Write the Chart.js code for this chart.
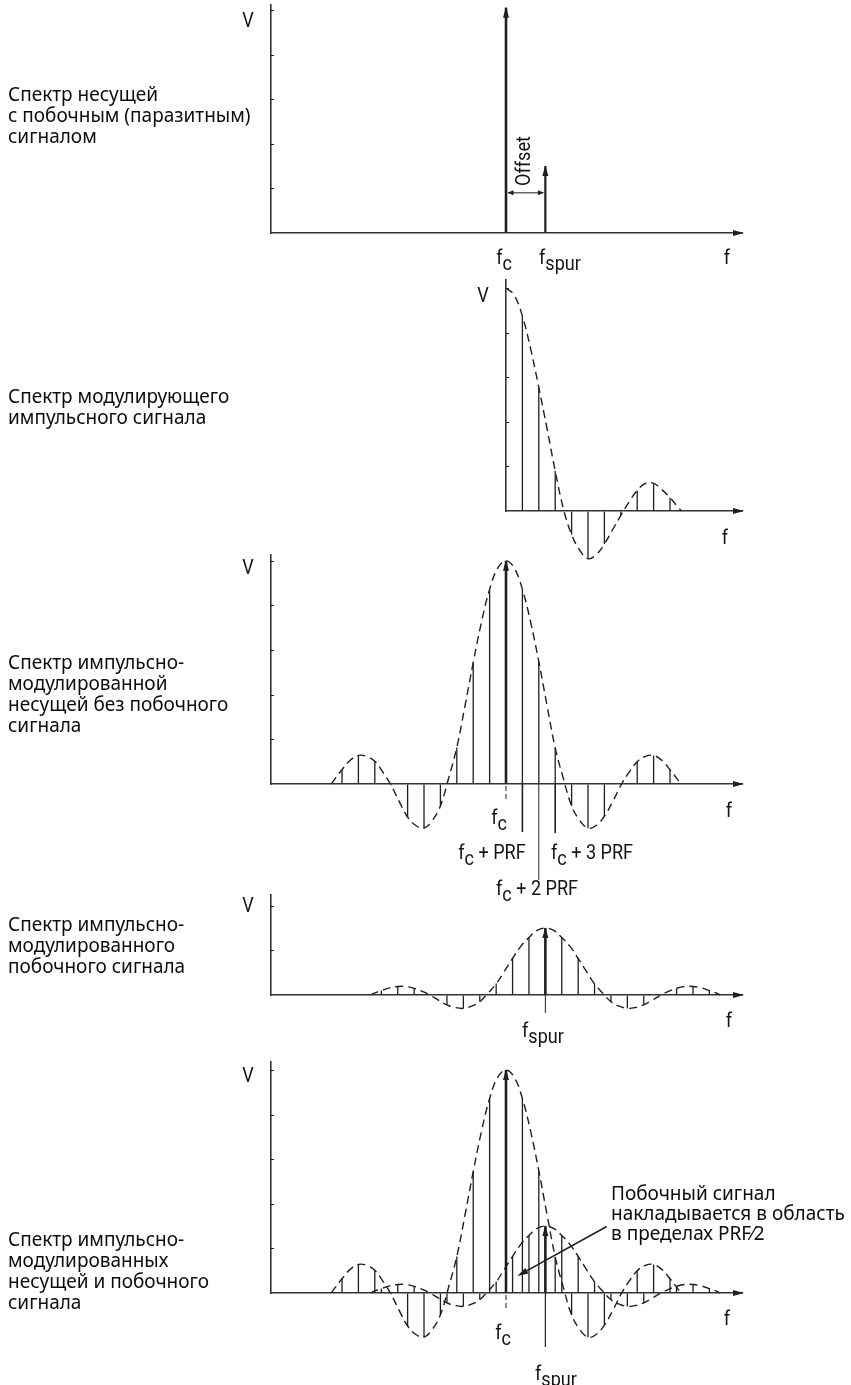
<!DOCTYPE html>
<html><head><meta charset="utf-8">
<script src="https://cdn.jsdelivr.net/npm/chart.js@4.4.1/dist/chart.umd.min.js"></script>
<style>
html,body{margin:0;padding:0;background:#fff;}
#wrap{position:relative;width:851px;height:1385px;overflow:hidden;background:#fff;}
canvas{position:absolute;left:0;}
.lbl{position:absolute;left:8px;font-family:"Noto Sans","Open Sans",sans-serif;font-size:19px;line-height:21px;color:#0d0d0d;white-space:nowrap;}
.note{position:absolute;left:611px;top:1183px;font-family:"Noto Sans","Open Sans",sans-serif;font-size:19px;line-height:20px;color:#0d0d0d;white-space:nowrap;}
.ax{position:absolute;font-family:"Roboto","Liberation Sans",sans-serif;font-size:21px;line-height:1;color:#141414;white-space:nowrap;transform:translate(-50%,-50%) scaleX(0.86);}
.ax sub{font-size:1em;vertical-align:-0.3em;line-height:0;}
.rot{transform:translate(-50%,-50%) rotate(-90deg) scaleX(0.86);}
</style></head>
<body><div id="wrap">
<canvas id="c1" width="851" height="250" style="top:0px"></canvas>
<canvas id="c2" width="851" height="300" style="top:270px"></canvas>
<canvas id="c3" width="851" height="360" style="top:545px"></canvas>
<canvas id="c4" width="851" height="140" style="top:885px"></canvas>
<canvas id="c5" width="851" height="310" style="top:1050px"></canvas>

<div class="lbl" style="top:84px">Спектр несущей<br>с побочным (паразитным)<br>сигналом</div>
<div class="lbl" style="top:386px">Спектр модулирующего<br>импульсного сигнала</div>
<div class="lbl" style="top:652px">Спектр импульсно-<br>модулированной<br>несущей без побочного<br>сигнала</div>
<div class="lbl" style="top:914px">Спектр импульсно-<br>модулированного<br>побочного сигнала</div>
<div class="lbl" style="top:1229px">Спектр импульсно-<br>модулированных<br>несущей и побочного<br>сигнала</div>
<div class="note">Побочный сигнал<br>накладывается в область<br>в пределах PRF⁄2</div>

<div class="ax" style="left:248px;top:20px">V</div>
<div class="ax" style="left:504px;top:257px">f<sub>c</sub></div>
<div class="ax" style="left:560px;top:257px">f<sub>spur</sub></div>
<div class="ax" style="left:727px;top:257px">f</div>
<div class="ax rot" style="left:523px;top:161px">Offset</div>

<div class="ax" style="left:483px;top:295px">V</div>
<div class="ax" style="left:725px;top:537px">f</div>

<div class="ax" style="left:248px;top:567px">V</div>
<div class="ax" style="left:729px;top:810px">f</div>
<div class="ax" style="left:499px;top:817px">f<sub>c</sub></div>
<div class="ax" style="left:492px;top:852px">f<sub>c</sub> + PRF</div>
<div class="ax" style="left:592px;top:852px">f<sub>c</sub> + 3 PRF</div>
<div class="ax" style="left:537px;top:888px">f<sub>c</sub> + 2 PRF</div>

<div class="ax" style="left:248px;top:905px">V</div>
<div class="ax" style="left:543px;top:1030px">f<sub>spur</sub></div>
<div class="ax" style="left:729px;top:1020px">f</div>

<div class="ax" style="left:248px;top:1075px">V</div>
<div class="ax" style="left:503px;top:1332px">f<sub>c</sub></div>
<div class="ax" style="left:556px;top:1373px">f<sub>spur</sub></div>
<div class="ax" style="left:727px;top:1318px">f</div>
</div>
<script>
// ---------------- DATA ----------------
// x: frequency in PRF units relative to f_c ; y: amplitude in axis-tick units
const fSpur = 2.4;                 // spur offset from carrier
const lineFreqs = [0, 2.4];        // panel 1: carrier & spur lines
const lineAmps  = [5.05, 1.5];

// panel 2: modulating pulse spectrum (one-sided)
const modK    = [0,0.5,1,1.5,2,2.5,3,3.5,4,4.5,5,5.5,6,6.5,7,7.5,8,8.5,9,9.5,10,10.5,10.7];
const modEnv  = [5.0,4.84,4.37,3.64,2.77,1.85,0.90,0.05,-0.53,-0.88,-1.07,-0.98,-0.74,-0.42,-0.10,0.20,0.46,0.62,0.62,0.48,0.30,0.08,0];
const modStemK = [1,2,3,4,5,6,7,8,9,10];
const modStems = [4.37,2.77,0.90,-0.53,-1.07,-0.74,-0.10,0.46,0.62,0.30];

// panels 3-5: pulse-modulated carrier / spur (offsets from their centre)
const stemK = [-10,-9,-8,-7,-6,-5,-4,-3,-2,-1,1,2,3,4,5,6,7,8,9,10];
const carrierStems = [0.32,0.64,0.51,-0.03,-0.74,-0.99,-0.49,0.82,2.72,4.36,4.36,2.74,0.81,-0.49,-0.99,-0.72,-0.03,0.50,0.64,0.32];
const spurStems    = [0.10,0.19,0.15,0.00,-0.22,-0.30,-0.15,0.26,0.83,1.28,1.28,0.83,0.26,-0.15,-0.30,-0.22,0.00,0.15,0.19,0.10];
const envK = [-10.65,-10.5,-10,-9.5,-9,-8.5,-8,-7.5,-7.05,-6.5,-6,-5.5,-5,-4.5,-4,-3.5,-3,-2.5,-2,-1.5,-1,-0.5,0,0.5,1,1.5,2,2.5,3,3.5,4,4.5,5,5.5,6,6.5,7.05,7.5,8,8.5,9,9.5,10,10.5,10.65];
const carrierEnv = [0,0.08,0.32,0.53,0.64,0.62,0.51,0.26,0,-0.40,-0.74,-0.93,-0.99,-0.82,-0.49,0.13,0.82,1.75,2.72,3.62,4.36,4.84,5.0,4.84,4.36,3.63,2.74,1.76,0.81,0.12,-0.49,-0.82,-0.99,-0.93,-0.72,-0.40,0,0.26,0.50,0.62,0.64,0.53,0.32,0.08,0];
const spurEnv    = [0,0.03,0.10,0.16,0.19,0.19,0.15,0.08,0,-0.12,-0.22,-0.28,-0.30,-0.25,-0.15,0.04,0.25,0.53,0.82,1.09,1.29,1.45,1.5,1.45,1.29,1.09,0.82,0.53,0.25,0.04,-0.15,-0.25,-0.30,-0.28,-0.22,-0.12,0,0.08,0.15,0.19,0.19,0.16,0.10,0.03,0];
const carrierPeak = 5.0;
const spurPeak = 1.5;

// labelled frequencies below the axis
const p3Marks = [0, 1, 2, 3];            // f_c, f_c+PRF, f_c+2PRF, f_c+3PRF
const yTickValues = [1,2,3,4,5];

// ---------------- DRAWING ----------------
const INK = '#1f1f1f';
const AXC = '#333333';
const X_MIN = -14.33, X_MAX = 14.39;

const DECO = {};

function tri(ctx, tipX, tipY, dx, dy, len, half) {
  const bx = tipX - dx*len, by = tipY - dy*len;
  ctx.beginPath();
  ctx.moveTo(tipX, tipY);
  ctx.lineTo(bx - dy*half, by + dx*half);
  ctx.lineTo(bx + dy*half, by - dx*half);
  ctx.closePath(); ctx.fill();
}

const decoPlugin = {
  id: 'deco',
  afterDatasetsDraw(chart) {
    const d = DECO[chart.canvas.id] || {};
    const ctx = chart.ctx, xs = chart.scales.x, ys = chart.scales.y, ca = chart.chartArea;
    const by = ys.getPixelForValue(0);
    ctx.save();
    ctx.strokeStyle = INK; ctx.fillStyle = INK;
    ctx.lineWidth = 1;
    ys.ticks.forEach(t => {
      if (t.value > 0 && yTickValues.includes(t.value)) {
        const py = Math.round(ys.getPixelForValue(t.value)) + 0.5;
        ctx.beginPath(); ctx.moveTo(ca.left, py); ctx.lineTo(ca.left + 3, py); ctx.stroke();
      }
    });
    tri(ctx, ca.right + 2, by, 1, 0, 11, 3);
    chart.data.datasets.forEach((ds, i) => {
      if (!ds.arrowTip) return;
      chart.getDatasetMeta(i).data.forEach(el => tri(ctx, el.x, el.y - 1, 0, -1, 11, 3));
    });
    (d.marks || []).forEach(m => {
      const px = xs.getPixelForValue(m.x);
      ctx.setLineDash(m.dash ? [5, 3] : []);
      ctx.lineWidth = m.w || 1;
      ctx.beginPath(); ctx.moveTo(px, by + (m.gap || 0)); ctx.lineTo(px, by + m.len); ctx.stroke();
    });
    ctx.setLineDash([]);
    if (d.offset) {
      const x1 = xs.getPixelForValue(d.offset.a), x2 = xs.getPixelForValue(d.offset.b), py = ys.getPixelForValue(d.offset.y);
      ctx.lineWidth = 1;
      ctx.beginPath(); ctx.moveTo(x1 + 2, py); ctx.lineTo(x2 - 2, py); ctx.stroke();
      tri(ctx, x1 + 1.5, py, -1, 0, 6, 2.5);
      tri(ctx, x2 - 1.5, py, 1, 0, 6, 2.5);
    }
    if (d.note) {
      const ax = xs.getPixelForValue(d.note.from[0]), ay = ys.getPixelForValue(d.note.from[1]);
      const bx = xs.getPixelForValue(d.note.to[0]), byy = ys.getPixelForValue(d.note.to[1]);
      const L = Math.hypot(bx - ax, byy - ay), ux = (bx - ax) / L, uy = (byy - ay) / L;
      ctx.lineWidth = 1.6;
      ctx.beginPath(); ctx.moveTo(ax, ay); ctx.lineTo(bx - ux*6, byy - uy*6); ctx.stroke();
      tri(ctx, bx, byy, ux, uy, 11, 3.2);
    }
    ctx.restore();
  }
};
Chart.register(decoPlugin);

const pts = (xsArr, ysArr, shift) => xsArr.map((x, i) => ({x: x + (shift || 0), y: ysArr[i]}));
const stems = (data, w, arrow) => ({type: 'bar', data, backgroundColor: INK, borderWidth: 0, grouped: false,
  maxBarThickness: w, clip: false, arrowTip: !!arrow, order: 1});
const env = (data) => ({type: 'line', data, borderColor: INK, borderWidth: 1.4, borderDash: [8, 5],
  pointRadius: 0, tension: 0.4, fill: false, clip: false, order: 2});

function opts(pad, xmin, xmax, ymax) {
  return {
    responsive: false, animation: false, devicePixelRatio: 1,
    layout: {padding: pad},
    plugins: {legend: {display: false}, tooltip: {enabled: false}},
    elements: {line: {capBezierPoints: false}},
    scales: {
      x: {type: 'linear', min: xmin, max: xmax, offset: false, position: 'bottom',
          grid: {display: true, offset: false, drawOnChartArea: false, drawTicks: false},
          border: {display: true, color: AXC, width: 1.6},
          ticks: {display: false}},
      y: {type: 'linear', min: 0, max: ymax, position: 'left',
          grid: {display: true, drawOnChartArea: false, drawTicks: false},
          border: {display: true, color: AXC, width: 1.6},
          ticks: {display: false, stepSize: 1, includeBounds: false}}
    }
  };
}

// Panel 1
DECO.c1 = {offset: {a: lineFreqs[0], b: lineFreqs[1], y: 0.9}};
new Chart(document.getElementById('c1'), {
  type: 'bar',
  data: {datasets: [
    stems([{x: lineFreqs[0], y: lineAmps[0]}], 2.6, true),
    stems([{x: lineFreqs[1], y: lineAmps[1]}], 2.2, true)
  ]},
  options: opts({left: 271, right: 109, top: 5, bottom: 17}, X_MIN, X_MAX, 5.11)
});

// Panel 2
new Chart(document.getElementById('c2'), {
  type: 'bar',
  data: {datasets: [
    env(pts(modK, modEnv)),
    stems(pts(modStemK, modStems), 1.3, false)
  ]},
  options: opts({left: 506, right: 109, top: 10, bottom: 59}, 0, X_MAX, 5.18)
});

// Panel 3
DECO.c3 = {marks: [
  {x: p3Marks[0], len: 16, gap: 2, dash: true, w: 1},
  {x: p3Marks[1], len: 48, w: 1.6},
  {x: p3Marks[2], len: 96, w: 1},
  {x: p3Marks[3], len: 49, w: 1.6}
]};
new Chart(document.getElementById('c3'), {
  type: 'bar',
  data: {datasets: [
    env(pts(envK, carrierEnv)),
    stems(pts(stemK, carrierStems), 1.3, false),
    stems([{x: 0, y: carrierPeak}], 2.6, true)
  ]},
  options: opts({left: 271, right: 109, top: 10, bottom: 121}, X_MIN, X_MAX, 5.13)
});

// Panel 4
DECO.c4 = {marks: [{x: fSpur, len: 18, w: 1}]};
new Chart(document.getElementById('c4'), {
  type: 'bar',
  data: {datasets: [
    env(pts(envK, spurEnv, fSpur)),
    stems(pts(stemK, spurStems, fSpur), 1.3, false),
    stems([{x: fSpur, y: spurPeak}], 2.6, true)
  ]},
  options: opts({left: 271, right: 109, top: 10, bottom: 30}, X_MIN, X_MAX, 2.24)
});

// Panel 5
DECO.c5 = {
  marks: [{x: 0, len: 17, gap: 2, dash: true, w: 1}, {x: fSpur, len: 54, w: 1.2}],
  note: {from: [6.14, 1.49], to: [0.69, 0.38]}
};
new Chart(document.getElementById('c5'), {
  type: 'bar',
  data: {datasets: [
    env(pts(envK, carrierEnv)),
    env(pts(envK, spurEnv, fSpur)),
    stems(pts(stemK, carrierStems), 1.3, false),
    stems(pts(stemK, spurStems, fSpur), 1.3, false),
    stems([{x: 0, y: carrierPeak}], 2.6, true),
    stems([{x: fSpur, y: spurPeak}], 2.6, true)
  ]},
  options: opts({left: 271, right: 109, top: 12, bottom: 67}, X_MIN, X_MAX, 5.18)
});
</script>
</body></html>
